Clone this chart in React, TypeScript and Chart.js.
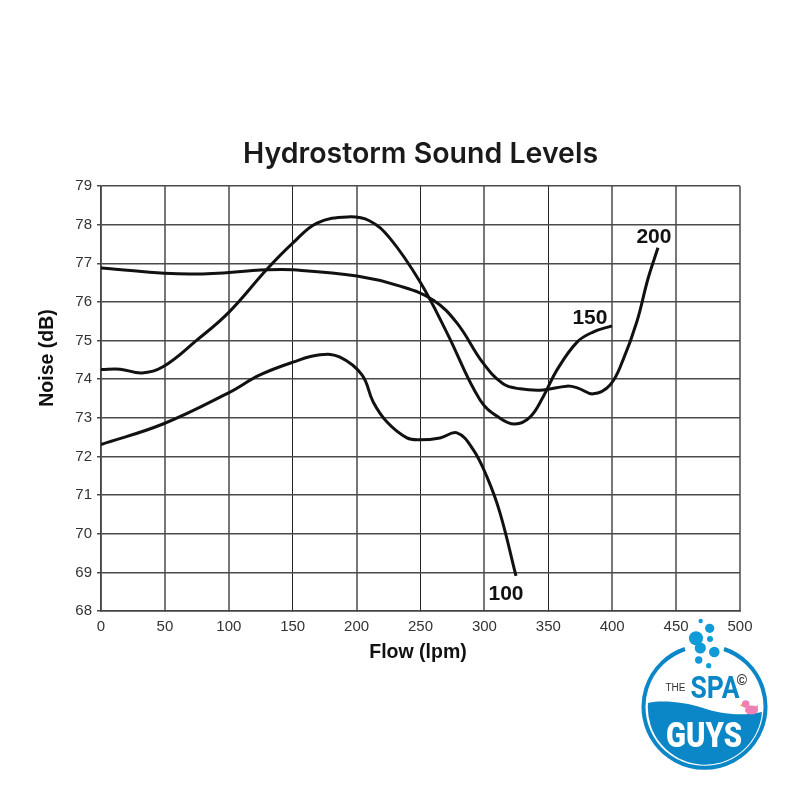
import React, { useEffect, useRef } from "react";
import { Chart, registerables } from "chart.js";

Chart.register(...registerables);

const TITLE = "Hydrostorm Sound Levels";
const X_TITLE = "Flow (lpm)";
const Y_TITLE = "Noise (dB)";

const flow100 = [0, 48.5, 99.4, 124.4, 150.2, 171.4, 187, 204.2, 213, 223.8, 239.4, 249.6, 265.3, 278.6, 291, 302, 312.2, 324.7];
const noise100 = [72.31, 72.84, 73.64, 74.11, 74.44, 74.63, 74.57, 74.11, 73.41, 72.89, 72.48, 72.43, 72.48, 72.61, 72.19, 71.47, 70.54, 68.91];

const flow150 = [0, 14.9, 32, 48.5, 75, 100, 130, 150, 169, 193, 210, 226, 249.6, 270.7, 296.6, 312.2, 323.9, 335.7, 345.9, 356.8, 372.5, 385, 399.8];
const noise150 = [74.25, 74.26, 74.16, 74.32, 75.01, 75.73, 76.85, 77.52, 78.04, 78.2, 78.1, 77.65, 76.52, 75.2, 73.46, 72.99, 72.84, 73.02, 73.54, 74.24, 74.96, 75.22, 75.38];

const flow200 = [0, 69.6, 129.9, 150.2, 200.3, 234, 259.8, 278.6, 298.9, 314.6, 327.9, 345.9, 364.6, 373.2, 385, 398.3, 408.5, 419.4, 428, 435.8];
const noise200 = [76.88, 76.72, 76.83, 76.83, 76.67, 76.41, 76.05, 75.45, 74.42, 73.88, 73.75, 73.72, 73.82, 73.77, 73.62, 73.85, 74.5, 75.5, 76.6, 77.4];

const seriesLabels = ["100", "150", "200"];
const xTicks = [0, 50, 100, 150, 200, 250, 300, 350, 400, 450, 500];
const yTicks = [68, 69, 70, 71, 72, 73, 74, 75, 76, 77, 78, 79];
const thinVerticals = [150, 250, 350];

const toPoints = (xs: number[], ys: number[]) => xs.map((x, i) => ({ x, y: ys[i] }));

const annotations = {
  id: "annotations",
  afterDatasetsDraw(chart: any) {
    const { ctx } = chart;
    const offsets: Record<string, [number, number]> = {
      "100": [-10, 18],
      "150": [-22, -8],
      "200": [-4, -11],
    };
    chart.data.datasets.forEach((ds: any, i: number) => {
      const pts = chart.getDatasetMeta(i).data;
      const last = pts[pts.length - 1];
      const off = offsets[ds.label];
      ctx.save();
      ctx.font = "bold 21px 'Liberation Sans'";
      ctx.fillStyle = "#111";
      ctx.textAlign = "center";
      ctx.textBaseline = "middle";
      ctx.fillText(ds.label, last.x + off[0], last.y + off[1]);
      ctx.restore();
    });
    ctx.save();
    ctx.font = "bold 19.5px 'Liberation Sans'";
    ctx.fillStyle = "#111";
    ctx.textAlign = "center";
    ctx.textBaseline = "middle";
    ctx.fillText(X_TITLE, 418, 653);
    ctx.translate(48, 358);
    ctx.rotate(-Math.PI / 2);
    ctx.fillText(Y_TITLE, 0, 0);
    ctx.restore();
  },
};

function Logo() {
  const blue = "#0b86c6";
  const bubbles: [number, number, number][] = [
    [700.7, 621, 2.2], [709.7, 628.3, 4.6], [696, 638.3, 7], [710, 639, 3],
    [700.3, 648, 5.6], [714.3, 652, 5.3], [698.7, 660, 3.7], [708.7, 665.7, 2.6],
  ];
  return (
    <svg width={800} height={800} style={{ position: "absolute", left: 0, top: 0, pointerEvents: "none" }}>
      <circle cx={704.5} cy={707} r={61} fill="#fff" />
      <path d="M 685 649 A 61 61 0 1 0 724 649" fill="none" stroke={blue} strokeWidth={4} />
      <path d="M 648 703 C 662 700, 685 702, 703 708 C 718 713, 740 717, 762 712 A 57 57 0 0 1 648 703 Z" fill={blue} />
      {bubbles.map(([x, y, r], i) => <circle key={i} cx={x} cy={y} r={r} fill="#0e9bd8" />)}
      <text x={675.5} y={690.7} fontFamily="'Liberation Sans'" fontSize={10} fill="#333" textAnchor="middle">THE</text>
      <text x={715} y={698} fontFamily="Roboto" fontWeight={700} fontSize={32} fill={blue} textAnchor="middle" textLength={49} lengthAdjust="spacingAndGlyphs">SPA</text>
      <text x={742} y={685} fontFamily="'Liberation Sans'" fontWeight={700} fontSize={14} fill="#333" textAnchor="middle">©</text>
      <text x={704} y={747} fontFamily="Roboto" fontWeight={900} fontSize={35} fill="#fff" textAnchor="middle" textLength={76} lengthAdjust="spacingAndGlyphs">GUYS</text>
      <ellipse cx={751.5} cy={710} rx={6.5} ry={4.5} fill="#ef7fb5" />
      <circle cx={745.7} cy={704} r={3.8} fill="#ef7fb5" />
      <path d="M 753 708 L 758 705 L 757.5 711 Z" fill="#ef7fb5" />
      <path d="M 742.5 704 L 740 705.5 L 742.5 706.5 Z" fill="#f08a2c" />
    </svg>
  );
}

export default function App() {
  const ref = useRef<HTMLCanvasElement>(null);
  useEffect(() => {
    const line = { borderColor: "#111", borderWidth: 3, pointRadius: 0, tension: 0.4, fill: false };
    const chart = new Chart(ref.current!, {
      type: "line",
      data: {
        datasets: [
          { label: seriesLabels[0], data: toPoints(flow100, noise100), ...line },
          { label: seriesLabels[1], data: toPoints(flow150, noise150), ...line },
          { label: seriesLabels[2], data: toPoints(flow200, noise200), ...line },
        ],
      },
      options: {
        responsive: false,
        animation: false,
        devicePixelRatio: 1,
        layout: { padding: { top: 0, right: 60, bottom: 137, left: 0 } },
        plugins: {
          legend: { display: false },
          tooltip: { enabled: false },
          title: {
            display: true,
            text: TITLE,
            fullSize: false,
            color: "#1a1a1a",
            font: { family: "Inter", size: 28.5, weight: 600 },
            padding: { top: 137, bottom: 14.8 },
          },
        },
        scales: {
          x: {
            type: "linear",
            min: 0,
            max: 500,
            afterBuildTicks: (s: any) => { s.ticks = xTicks.map((value) => ({ value })); },
            afterFit: (s: any) => { s.height = 52; },
            grid: {
              color: (c: any) => (thinVerticals.includes(c.tick?.value) ? "#222" : "#777"),
              lineWidth: (c: any) => (thinVerticals.includes(c.tick?.value) ? 1 : 2),
              tickLength: 0,
            },
            border: { color: "#444", width: 1.5 },
            ticks: { color: "#333", font: { family: "'Liberation Sans'", size: 15 }, padding: 7, maxRotation: 0, autoSkip: false },
          },
          y: {
            type: "linear",
            min: 68,
            max: 79,
            afterBuildTicks: (s: any) => { s.ticks = yTicks.map((value) => ({ value })); },
            afterFit: (s: any) => { s.width = 101; },
            grid: { color: "#4a4a4a", lineWidth: 1.5, tickLength: 4 },
            border: { color: "#444", width: 1.5 },
            ticks: { color: "#333", font: { family: "'Liberation Sans'", size: 15 }, padding: 5, autoSkip: false },
          },
        },
      },
      plugins: [annotations],
    });
    return () => chart.destroy();
  }, []);
  return (
    <div style={{ position: "absolute", left: 0, top: 0, width: 800, height: 800, background: "#fff" }}>
      <canvas ref={ref} width={800} height={800} style={{ display: "block" }} />
      <Logo />
    </div>
  );
}
